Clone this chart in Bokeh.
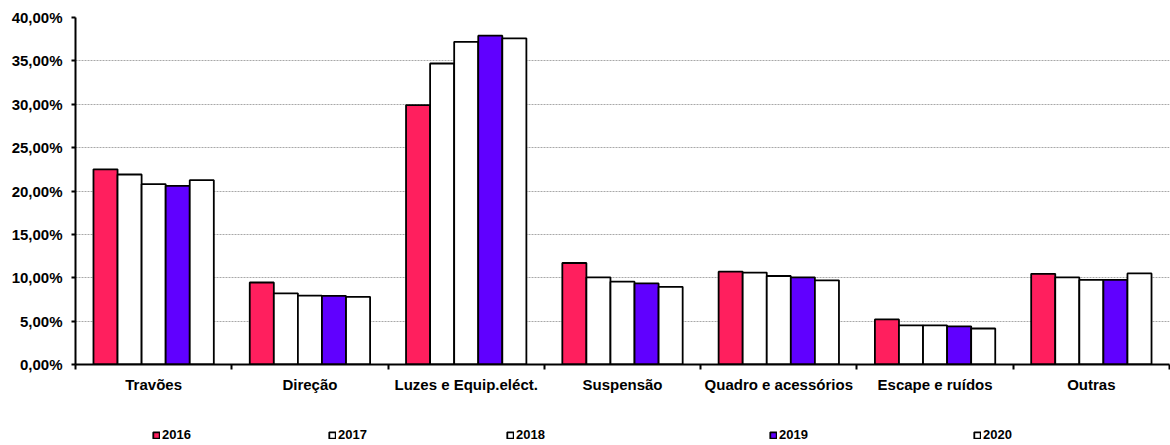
import numpy as np
from bokeh.plotting import figure
from bokeh.layouts import column
from bokeh.models import Range1d, FixedTicker, Legend, LegendItem, ColumnDataSource
from bokeh.embed import file_html
from bokeh.resources import INLINE

categories = ["Travões", "Direção", "Luzes e Equip.eléct.", "Suspensão",
              "Quadro e acessórios", "Escape e ruídos", "Outras"]
years = ["2016", "2017", "2018", "2019", "2020"]
v2016 = [22.5, 9.45, 29.9, 11.7, 10.7, 5.2, 10.45]
v2017 = [21.9, 8.2, 34.7, 10.05, 10.6, 4.5, 10.05]
v2018 = [20.8, 7.95, 37.2, 9.55, 10.2, 4.5, 9.75]
v2019 = [20.6, 7.9, 37.9, 9.35, 10.05, 4.4, 9.75]
v2020 = [21.25, 7.8, 37.6, 8.95, 9.7, 4.15, 10.5]
series = [v2016, v2017, v2018, v2019, v2020]
colors = ["#FF1F5E", "#FFFFFF", "#FFFFFF", "#6000FF", "#FFFFFF"]
y_ticks = [0, 5, 10, 15, 20, 25, 30, 35, 40]
y_tick_labels = ["0,00%", "5,00%", "10,00%", "15,00%", "20,00%",
                 "25,00%", "30,00%", "35,00%", "40,00%"]

FONT = "Liberation Sans"
n = len(categories)
bar_w = 0.154
offsets = [(-2 + i) * bar_w for i in range(len(years))]

p = figure(width=1170, height=399, output_backend="svg", toolbar_location=None,
           x_range=Range1d(0, n), y_range=Range1d(0, 40),
           min_border_left=75, min_border_right=1, min_border_top=17,
           min_border_bottom=35)
p.outline_line_color = None
p.xgrid.grid_line_color = None
p.ygrid.grid_line_color = "#a8a8a8"
p.ygrid.grid_line_dash = "2 1"
p.ygrid.grid_line_width = 1

for i, (yr, vals, col) in enumerate(zip(years, series, colors)):
    src = ColumnDataSource(dict(x=np.arange(n) + 0.5 + offsets[i], top=vals))
    p.vbar(x="x", top="top", width=bar_w, source=src, fill_color=col,
           line_color="black", line_width=1.8)

# x axis
p.xaxis.ticker = FixedTicker(ticks=[i + 0.5 for i in range(n)],
                             minor_ticks=list(range(n + 1)))
p.xaxis.major_label_overrides = {i + 0.5: c for i, c in enumerate(categories)}
p.xaxis.major_tick_out = 0
p.xaxis.major_tick_in = 0
p.xaxis.minor_tick_out = 5
p.xaxis.minor_tick_in = 0
p.xaxis.minor_tick_line_width = 2
p.xaxis.axis_line_width = 2
p.xaxis.major_label_text_font = FONT
p.xaxis.major_label_text_font_style = "bold"
p.xaxis.major_label_text_font_size = "15px"
p.xaxis.major_label_text_color = "black"
p.xaxis.major_label_standoff = 6

# y axis
p.yaxis.ticker = FixedTicker(ticks=y_ticks)
p.yaxis.major_label_overrides = {t: l for t, l in zip(y_ticks, y_tick_labels)}
p.yaxis.minor_tick_line_color = None
p.yaxis.major_tick_out = 4
p.yaxis.major_tick_in = 0
p.yaxis.major_tick_line_width = 2
p.yaxis.axis_line_width = 2
p.yaxis.major_label_text_font = FONT
p.yaxis.major_label_text_font_style = "bold"
p.yaxis.major_label_text_font_size = "15px"
p.yaxis.major_label_text_color = "black"
p.yaxis.major_label_standoff = 9

# legend strip (separate figure so the legend is not clipped by the plot frame)
lf = figure(width=1170, height=46, output_backend="svg", toolbar_location=None,
            x_range=Range1d(0, 1), y_range=Range1d(0, 1),
            min_border_left=0, min_border_right=0, min_border_top=0,
            min_border_bottom=0)
lf.axis.visible = False
lf.grid.visible = False
lf.outline_line_color = None
leg_x = [77, 253, 431, 694, 898]
for yr, col, lx in zip(years, colors, leg_x):
    # hidden swatch renderer, used only for the legend glyph
    src = ColumnDataSource(dict(x=[0.5], top=[0.5]))
    r = lf.vbar(x="x", top="top", width=0.01, source=src,
                fill_color=col, line_color="black", line_width=1.8)
    r.visible = False
    leg = Legend(items=[LegendItem(label=yr, renderers=[r])], location=(lx, 3),
                 padding=0, margin=0, spacing=0, glyph_width=8, glyph_height=8,
                 label_standoff=2, label_height=8, click_policy="none",
                 label_text_font=FONT, label_text_font_style="bold",
                 label_text_font_size="13px", label_text_color="black",
                 border_line_color=None, background_fill_alpha=0)
    lf.add_layout(leg, "center")

layout = column(p, lf, spacing=0)
open("out.html", "w").write(file_html(layout, INLINE))
